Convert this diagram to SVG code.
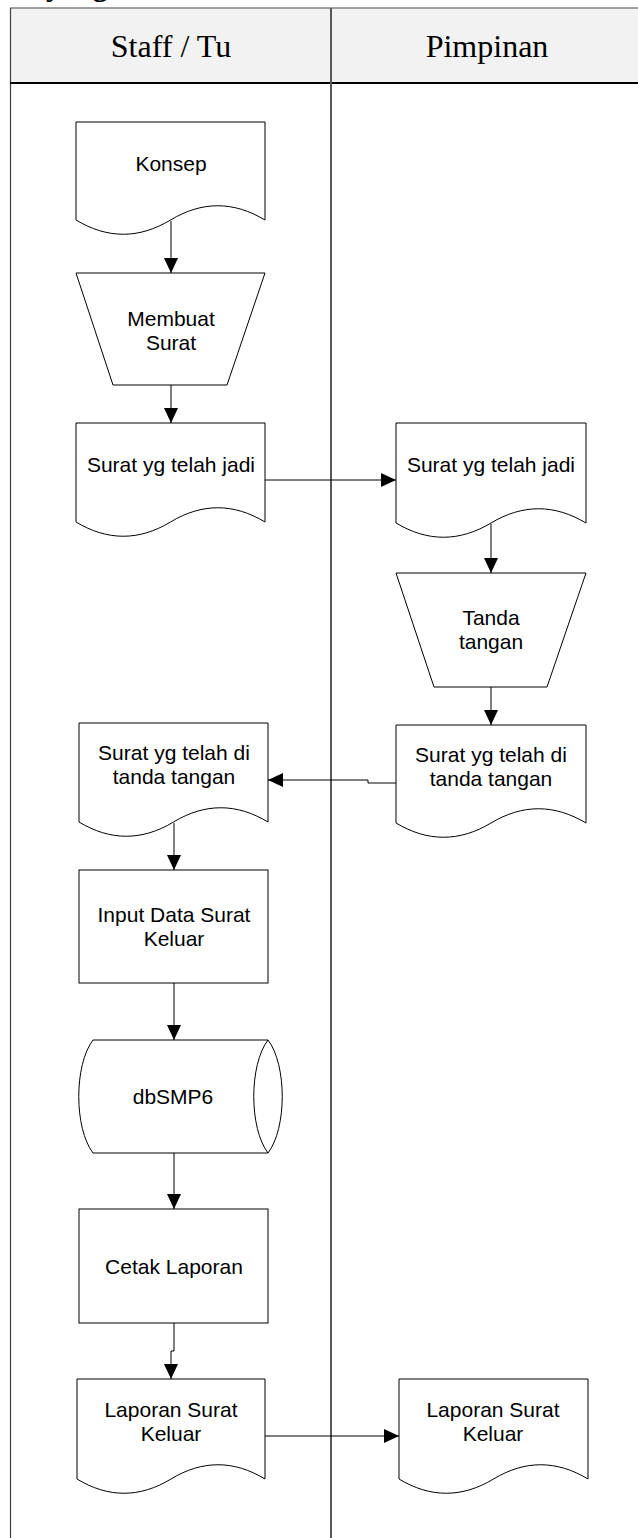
<svg xmlns="http://www.w3.org/2000/svg" width="638" height="1538" viewBox="0 0 638 1538">
<defs>
<style>
.shape{fill:#ffffff;stroke:#000000;stroke-width:1}
.lbl{font-family:"Liberation Sans",Arial,sans-serif;font-size:21px;fill:#000000;text-anchor:middle}
.hdr{font-family:"Liberation Serif","Times New Roman",serif;font-size:32px;fill:#000000;text-anchor:middle}
.conn{fill:none;stroke:#000000;stroke-width:1}
</style>
<marker id="arr" markerUnits="userSpaceOnUse" markerWidth="16" markerHeight="14" refX="15" refY="7" orient="auto">
<path d="M0,0 L15,7 L0,14 Z" fill="#000000"/>
</marker>
</defs>
<rect x="0" y="0" width="638" height="1538" fill="#ffffff"/>
<text x="46" y="-4" font-family="Liberation Serif,serif" font-weight="bold" font-size="30">yang</text>
<g id="lanes">
<rect x="10" y="8" width="640" height="75" fill="#f2f2f2" stroke="none"/>
<line x1="10" y1="8" x2="638" y2="8" stroke="#808080" stroke-width="1.5"/>
<line x1="10.5" y1="8" x2="10.5" y2="1538" stroke="#404040" stroke-width="1.2"/>
<line x1="10" y1="83" x2="638" y2="83" stroke="#000000" stroke-width="2"/>
<line x1="331" y1="8" x2="331" y2="1538" stroke="#595959" stroke-width="2"/>
<text class="hdr" x="171" y="57">Staff / Tu</text>
<text class="hdr" x="487" y="57">Pimpinan</text>
</g>
<g id="connectors">
<path class="conn" d="M171,221 V273" marker-end="url(#arr)"/>
<path class="conn" d="M171,385 V423" marker-end="url(#arr)"/>
<path class="conn" d="M265,480 H396" marker-end="url(#arr)"/>
<path class="conn" d="M491,524 V573" marker-end="url(#arr)"/>
<path class="conn" d="M491,687 V725" marker-end="url(#arr)"/>
<path class="conn" d="M396,783 H368 V780 H268" marker-end="url(#arr)"/>
<path class="conn" d="M174,823 V870" marker-end="url(#arr)"/>
<path class="conn" d="M174,983 V1040" marker-end="url(#arr)"/>
<path class="conn" d="M174,1153 V1209" marker-end="url(#arr)"/>
<path class="conn" d="M174,1323 V1351 H171 V1379" marker-end="url(#arr)"/>
<path class="conn" d="M265,1436 H399" marker-end="url(#arr)"/>
</g>
<g id="konsep">
<path class="shape" d="M76,122 H265 V220 C233.5,201 202,201 170.5,220 C139,239 107.5,239 76,220 Z"/>
<text class="lbl" x="171" y="171">Konsep</text>
</g>
<g id="membuat-surat">
<polygon class="shape" points="76,273 265,273 227,385 113,385"/>
<text class="lbl" x="171" y="326">Membuat</text>
<text class="lbl" x="171" y="350">Surat</text>
</g>
<g id="surat-jadi-staff">
<path class="shape" d="M76,423 H265 V522 C233.5,503 202,503 170.5,522 C139,541 107.5,541 76,522 Z"/>
<text class="lbl" x="171" y="472">Surat yg telah jadi</text>
</g>
<g id="surat-jadi-pimpinan">
<path class="shape" d="M396,423 H586 V523 C554.3,504 522.7,504 491,523 C459.3,542 427.7,542 396,523 Z"/>
<text class="lbl" x="491" y="472">Surat yg telah jadi</text>
</g>
<g id="tanda-tangan">
<polygon class="shape" points="396,573 586,573 547,687 434,687"/>
<text class="lbl" x="491" y="625">Tanda</text>
<text class="lbl" x="491" y="649">tangan</text>
</g>
<g id="surat-ttd-pimpinan">
<path class="shape" d="M396,725 H586 V823 C554.3,804 522.7,804 491,823 C459.3,842 427.7,842 396,823 Z"/>
<text class="lbl" x="491" y="762">Surat yg telah di</text>
<text class="lbl" x="491" y="786">tanda tangan</text>
</g>
<g id="surat-ttd-staff">
<path class="shape" d="M79,723 H268 V822 C236.5,803 205,803 173.5,822 C142,841 110.5,841 79,822 Z"/>
<text class="lbl" x="174" y="760">Surat yg telah di</text>
<text class="lbl" x="174" y="784">tanda tangan</text>
</g>
<g id="input-data">
<rect class="shape" x="79" y="870" width="189" height="113"/>
<text class="lbl" x="174" y="922">Input Data Surat</text>
<text class="lbl" x="174" y="946">Keluar</text>
</g>
<g id="dbsmp6">
<path class="shape" d="M93,1040 H268 C287,1065 287,1128 268,1153 H93 C74,1128 74,1065 93,1040 Z"/>
<path class="conn" d="M268,1040 C249,1065 249,1128 268,1153"/>
<text class="lbl" x="173" y="1104">dbSMP6</text>
</g>
<g id="cetak-laporan">
<rect class="shape" x="79" y="1209" width="189" height="114"/>
<text class="lbl" x="174" y="1274">Cetak Laporan</text>
</g>
<g id="laporan-staff">
<path class="shape" d="M77,1379 H265 V1479 C233.7,1460 202.3,1460 171,1479 C139.7,1498 108.3,1498 77,1479 Z"/>
<text class="lbl" x="171" y="1417">Laporan Surat</text>
<text class="lbl" x="171" y="1441">Keluar</text>
</g>
<g id="laporan-pimpinan">
<path class="shape" d="M399,1379 H588 V1479 C556.5,1460 525,1460 493.5,1479 C462,1498 430.5,1498 399,1479 Z"/>
<text class="lbl" x="493" y="1417">Laporan Surat</text>
<text class="lbl" x="493" y="1441">Keluar</text>
</g>
</svg>
